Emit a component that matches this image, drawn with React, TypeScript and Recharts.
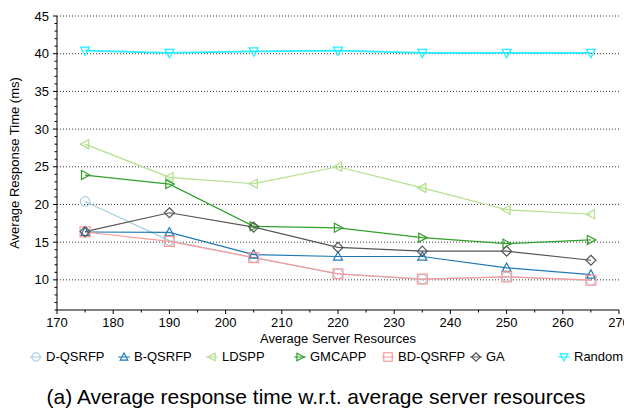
import React from 'react';
import { LineChart, Line, XAxis, YAxis, CartesianGrid } from 'recharts';

const resources = [175, 190, 205, 220, 235, 250, 265];
const dQsrfp = [20.4, 15.2, 12.95, 10.8, 10.1, 10.4, 9.95];
const bQsrfp = [16.35, 16.3, 13.35, 13.1, 13.1, 11.6, 10.7];
const ldspp = [28.0, 23.6, 22.75, 25.0, 22.2, 19.3, 18.7];
const gmcapp = [23.9, 22.7, 17.1, 16.9, 15.6, 14.8, 15.3];
const bdQsrfp = [16.35, 15.1, 12.95, 10.8, 10.1, 10.4, 9.95];
const ga = [16.4, 18.9, 17.0, 14.3, 13.8, 13.8, 12.6];
const random = [40.4, 40.1, 40.3, 40.4, 40.1, 40.1, 40.1];

const xMajorTicks = [170, 180, 190, 200, 210, 220, 230, 240, 250, 260, 270];
const xMinorTicks = [175, 185, 195, 205, 215, 225, 235, 245, 255, 265];
const yMajorTicks = [10, 15, 20, 25, 30, 35, 40, 45];
const yMinorTicks = [6, 7, 8, 9, 11, 12, 13, 14, 16, 17, 18, 19, 21, 22, 23, 24, 26, 27, 28, 29, 31, 32, 33, 34, 36, 37, 38, 39, 41, 42, 43, 44];

const seriesNames = ['D-QSRFP', 'B-QSRFP', 'LDSPP', 'GMCAPP', 'BD-QSRFP', 'GA', 'Random'];
const seriesKeys = ['dq', 'bq', 'ld', 'gm', 'bd', 'ga', 'rn'];
const seriesValues = [dQsrfp, bQsrfp, ldspp, gmcapp, bdQsrfp, ga, random];
const seriesColors = ['#a6cee3', '#1f78b4', '#b2df8a', '#33a02c', '#fb9a99', '#555555', '#22f0ff'];
const seriesShapes = ['circle', 'up', 'left', 'right', 'square', 'diamond', 'down'];
const seriesWidths = [1.2, 1.2, 1.2, 1.2, 1.2, 1.2, 1.8];

const data = resources.map((r, i) => {
  const row: any = { x: r };
  seriesKeys.forEach((k, j) => {
    row[k] = seriesValues[j][i];
  });
  return row;
});

const FONT = '"Liberation Sans", Arial, Helvetica, sans-serif';

function Marker({ shape, cx, cy, color, s = 1 }: { shape: string; cx: number; cy: number; color: string; s?: number }) {
  const common = { fill: 'none', stroke: color, strokeWidth: 1.2 };
  const a = 4.8 * s;
  const b = 4.5 * s;
  const c = 3.6 * s;
  switch (shape) {
    case 'circle':
      return <circle cx={cx} cy={cy} r={4.8 * s} {...common} />;
    case 'square':
      return <rect x={cx - 5 * s} y={cy - 5 * s} width={10 * s} height={10 * s} {...common} />;
    case 'diamond':
      return <polygon points={`${cx},${cy - 5 * s} ${cx + 5 * s},${cy} ${cx},${cy + 5 * s} ${cx - 5 * s},${cy}`} {...common} />;
    case 'up':
      return <polygon points={`${cx},${cy - a} ${cx + b},${cy + c} ${cx - b},${cy + c}`} {...common} />;
    case 'down':
      return <polygon points={`${cx},${cy + a} ${cx + b},${cy - c} ${cx - b},${cy - c}`} {...common} />;
    case 'left':
      return <polygon points={`${cx - a},${cy} ${cx + c},${cy - b} ${cx + c},${cy + b}`} {...common} />;
    case 'right':
      return <polygon points={`${cx + a},${cy} ${cx - c},${cy - b} ${cx - c},${cy + b}`} {...common} />;
    default:
      return null;
  }
}

const XTick = (props: any) => {
  const { x, y, payload } = props;
  const major = xMajorTicks.includes(payload.value);
  return (
    <g>
      <line x1={x} x2={x} y1={y} y2={y + (major ? 4 : 2.5)} stroke="#000" strokeWidth={1} />
      {major && (
        <text x={x} y={y + 17} textAnchor="middle" fontSize={13} fill="#000" fontFamily={FONT}>
          {payload.value}
        </text>
      )}
    </g>
  );
};

const YTick = (props: any) => {
  const { x, y, payload } = props;
  const major = yMajorTicks.includes(payload.value);
  return (
    <g>
      <line x1={x} x2={x - (major ? 4 : 2.5)} y1={y} y2={y} stroke="#000" strokeWidth={1} />
      {major && (
        <text x={x - 8} y={y + 4.6} textAnchor="end" fontSize={13} fill="#000" fontFamily={FONT}>
          {payload.value}
        </text>
      )}
    </g>
  );
};

const allXTicks = [...xMajorTicks, ...xMinorTicks].sort((a, b) => a - b);
const allYTicks = [...yMajorTicks, ...yMinorTicks].sort((a, b) => a - b);

export default function App() {
  return (
    <div
      style={{
        position: 'absolute',
        left: 0,
        top: 0,
        width: 624,
        height: 412,
        background: '#fff',
        fontFamily: FONT,
        overflow: 'hidden',
      }}
    >
      <LineChart width={624} height={350} data={data} margin={{ top: 16, right: 5, left: 0, bottom: 0 }}>
        <CartesianGrid
          vertical={false}
          horizontalValues={yMajorTicks}
          stroke="#333"
          strokeDasharray="1 2"
          strokeWidth={1}
        />
        <XAxis
          dataKey="x"
          type="number"
          domain={[170, 270]}
          ticks={allXTicks}
          interval={0}
          tickSize={0}
          tickMargin={0}
          tickLine={false}
          tick={<XTick />}
          axisLine={{ stroke: '#000', strokeWidth: 1 }}
          height={40}
          label={{
            value: 'Average Server Resources',
            position: 'insideBottom',
            offset: 7,
            fontSize: 13,
            fill: '#000',
            fontFamily: FONT,
          }}
        />
        <YAxis
          type="number"
          domain={[6, 45]}
          allowDataOverflow
          ticks={allYTicks}
          interval={0}
          tickSize={0}
          tickMargin={0}
          tickLine={false}
          tick={<YTick />}
          axisLine={{ stroke: '#000', strokeWidth: 1 }}
          width={57}
          label={{
            content: () => (
              <text
                transform="translate(14,163) rotate(-90)"
                textAnchor="middle"
                dominantBaseline="central"
                fontSize={13}
                fill="#000"
                fontFamily={FONT}
              >
                Average Response Time (ms)
              </text>
            ),
          }}
        />
        {seriesKeys.map((k, j) => (
          <Line
            key={k}
            dataKey={k}
            name={seriesNames[j]}
            type="linear"
            stroke={seriesColors[j]}
            strokeWidth={seriesWidths[j]}
            isAnimationActive={false}
            activeDot={false}
            dot={(p: any) => (
              <Marker key={`${k}-${p.index}`} shape={seriesShapes[j]} cx={p.cx} cy={p.cy} color={seriesColors[j]} />
            )}
          />
        ))}
      </LineChart>
      <div style={{ position: 'absolute', left: 0, top: 349, width: 624, height: 16 }}>
        {seriesNames.map((name, j) => (
          <div
            key={name}
            style={{
              position: 'absolute',
              left: 29 + j * 88,
              top: 0,
              height: 16,
              display: 'flex',
              alignItems: 'center',
              whiteSpace: 'nowrap',
            }}
          >
            <svg width={14} height={14} style={{ marginRight: 3 }}>
              <line x1={1} x2={13} y1={7} y2={7} stroke={seriesColors[j]} strokeWidth={1} />
              <Marker shape={seriesShapes[j]} cx={7} cy={7} color={seriesColors[j]} s={0.85} />
            </svg>
            <span style={{ fontSize: 13, color: '#000', lineHeight: '16px' }}>{name}</span>
          </div>
        ))}
      </div>
      <div
        style={{
          position: 'absolute',
          left: 0,
          top: 384,
          width: 632,
          textAlign: 'center',
          fontSize: 21,
          color: '#000',
          lineHeight: '26px',
        }}
      >
        (a) Average response time w.r.t. average server resources
      </div>
    </div>
  );
}
